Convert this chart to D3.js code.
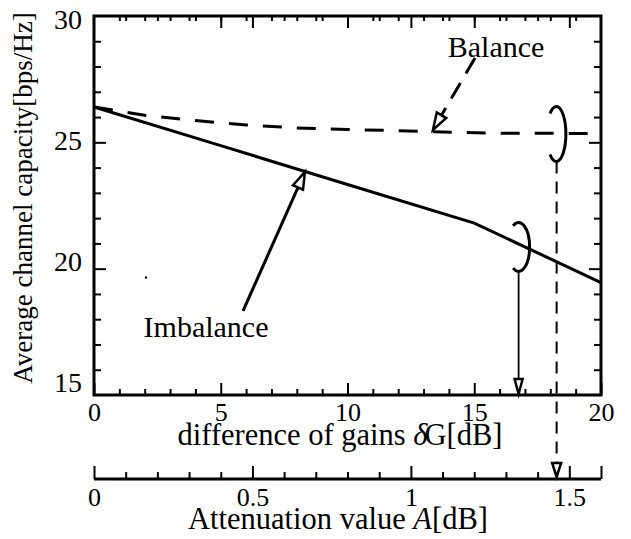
<!DOCTYPE html>
<html><head><meta charset="utf-8">
<script src="https://cdn.jsdelivr.net/npm/d3@7"></script>
<style>
html,body{margin:0;padding:0;background:#fff;}
svg{display:block;}
</style>
</head><body>
<svg id="chart" width="631" height="539" font-family="Liberation Serif, Times New Roman, serif"></svg>
<script>
// ---- data ----
const gainDiff = [0, 5, 10, 15, 20];
const imbalanceCapacity = [26.4, 24.87, 23.33, 21.8, 19.45];
const balanceGain = [0, 2, 4, 6, 8, 10, 12, 13.4, 16, 20];
const balanceCapacity = [26.4, 26.07, 25.86, 25.69, 25.57, 25.51, 25.46, 25.42, 25.36, 25.35];

const gainMajorTicks = [0, 5, 10, 15, 20];
const gainMinorTicks = [1, 2, 3, 4, 6, 7, 8, 9, 11, 12, 13, 14, 16, 17, 18, 19];
const capacityMajorTicks = [15, 20, 25, 30];
const capacityMinorTicks = [16, 17, 18, 19, 21, 22, 23, 24, 26, 27, 28, 29];
const attenMajorTicks = [0, 0.5, 1, 1.5, 1.6];
const attenLabelTicks = [0, 0.5, 1, 1.5];
const attenLabels = ["0", "0.5", "1", "1.5"];
const attenMinorTicks = [0.1, 0.2, 0.3, 0.4, 0.6, 0.7, 0.8, 0.9, 1.1, 1.2, 1.3, 1.4];

// annotation anchors (data units)
const balanceLabel = {gain: 15.86, cap: 28.38, text: "Balance"};
const imbalanceLabel = {gain: 4.42, cap: 17.30, text: "Imbalance"};
const balancePointer = {from: [15.03, 28.34], to: [13.37, 25.49]};
const imbalancePointer = {from: [5.88, 18.33], to: [8.32, 23.83]};
const balanceLoop = {gain: 18.24, cap: 25.33, atten: 1.46};
const imbalanceLoop = {gain: 16.75, cap: 20.86};
const specks = [[2.05, 19.65]];

// ---- layout ----
const FONT = "Liberation Serif, Times New Roman, serif";
const svg = d3.select("#chart");
const L = 94, R = 601, T = 16, B = 395, attenY = 479;
const x = d3.scaleLinear().domain([0, 20]).range([L, R]);
const y = d3.scaleLinear().domain([15, 30]).range([B, T]);
// the printed y labels sit on a slightly compressed baseline scale
const yLabel = d3.scaleLinear().domain([15, 30]).range([391.5, 28.5]);
const xa = d3.scaleLinear().domain([0, 1.6]).range([L, R]);

function styleTicks(g, w) {
  g.attr("font-family", FONT);
  g.select(".domain").remove();
  g.selectAll(".tick line").attr("stroke", "#000").attr("stroke-width", w);
  g.selectAll(".tick text").attr("font-family", FONT).attr("fill", "#000");
}

// bottom gain axis
svg.append("g").attr("transform", `translate(0,${B})`)
  .call(d3.axisBottom(x).tickValues(gainMinorTicks).tickSize(-6).tickFormat(""))
  .call(g => styleTicks(g, 2));
svg.append("g").attr("transform", `translate(0,${B})`)
  .call(d3.axisBottom(x).tickValues(gainMajorTicks).tickSize(-12).tickPadding(8).tickFormat(d3.format("d")))
  .call(g => { styleTicks(g, 2); g.attr("font-size", 26); g.selectAll("text").attr("font-size", 26); });

// top axis (gain ticks + attenuation ticks)
svg.append("g").attr("transform", `translate(0,${T})`)
  .call(d3.axisTop(x).tickValues(gainMinorTicks).tickSize(-5).tickFormat(""))
  .call(g => styleTicks(g, 2));
svg.append("g").attr("transform", `translate(0,${T})`)
  .call(d3.axisTop(x).tickValues([5, 10, 15]).tickSize(-12).tickFormat(""))
  .call(g => styleTicks(g, 2));
svg.append("g").attr("transform", `translate(0,${T})`)
  .call(d3.axisTop(xa).tickValues(attenMinorTicks).tickSize(-5).tickFormat(""))
  .call(g => styleTicks(g, 2));
svg.append("g").attr("transform", `translate(0,${T})`)
  .call(d3.axisTop(xa).tickValues([0.5, 1, 1.5]).tickSize(-12).tickFormat(""))
  .call(g => styleTicks(g, 2));

// left axis
svg.append("g").attr("transform", `translate(${L},0)`)
  .call(d3.axisLeft(y).tickValues(capacityMinorTicks).tickSize(-7).tickFormat(""))
  .call(g => styleTicks(g, 2));
svg.append("g").attr("transform", `translate(${L},0)`)
  .call(d3.axisLeft(y).tickValues([20, 25]).tickSize(-12).tickFormat(""))
  .call(g => styleTicks(g, 2));
svg.append("g").attr("transform", `translate(${L},0)`)
  .call(d3.axisLeft(yLabel).tickValues(capacityMajorTicks).tickSize(0).tickPadding(12).tickFormat(d3.format("d")))
  .call(g => { styleTicks(g, 2); g.attr("font-size", 28); g.selectAll("text").attr("font-size", 28).attr("dy", 0); });

// right axis
svg.append("g").attr("transform", `translate(${R},0)`)
  .call(d3.axisRight(y).tickValues(capacityMinorTicks).tickSize(-7).tickFormat(""))
  .call(g => styleTicks(g, 2));
svg.append("g").attr("transform", `translate(${R},0)`)
  .call(d3.axisRight(y).tickValues([20, 25]).tickSize(-12).tickFormat(""))
  .call(g => styleTicks(g, 2));

// frame
svg.append("rect").attr("x", L).attr("y", T).attr("width", R - L).attr("height", B - T)
  .attr("fill", "none").attr("stroke", "#000").attr("stroke-width", 3);

// attenuation axis
svg.append("line").attr("x1", L).attr("x2", R).attr("y1", attenY).attr("y2", attenY)
  .attr("stroke", "#000").attr("stroke-width", 3);
svg.append("g").attr("transform", `translate(0,${attenY})`)
  .call(d3.axisBottom(xa).tickValues(attenMinorTicks).tickSize(-7).tickFormat(""))
  .call(g => styleTicks(g, 2));
svg.append("g").attr("transform", `translate(0,${attenY})`)
  .call(d3.axisBottom(xa).tickValues(attenMajorTicks).tickSize(-13).tickFormat(""))
  .call(g => styleTicks(g, 2));
svg.append("g").attr("transform", `translate(0,${attenY})`)
  .call(d3.axisBottom(xa).tickValues(attenLabelTicks).tickSize(0).tickPadding(9)
        .tickFormat((d, i) => attenLabels[i]))
  .call(g => { styleTicks(g, 2); g.attr("font-size", 26); g.selectAll("text").attr("font-size", 26); });

function txt(xp, yp, size) {
  return svg.append("text").attr("x", xp).attr("y", yp).attr("text-anchor", "middle")
    .attr("font-family", FONT).attr("font-size", size).attr("fill", "#000");
}

// axis titles
svg.append("text").attr("transform", "translate(32,198) rotate(-90)")
  .attr("text-anchor", "middle").attr("font-size", 27).attr("font-family", FONT).attr("fill", "#000")
  .text("Average channel capacity[bps/Hz]");
const xt = txt(340, 445, 30.5);
xt.append("tspan").text("difference of gains ");
xt.append("tspan").attr("font-style", "italic").text("δ");
xt.append("tspan").attr("dx", -3).text("G[dB]");
const at = txt(338, 529, 30.5);
at.append("tspan").text("Attenuation value ");
at.append("tspan").attr("font-style", "italic").text("A");
at.append("tspan").text("[dB]");

// data lines
const line = d3.line().x(d => x(d[0])).y(d => y(d[1]));
svg.append("path").datum(gainDiff.map((g, i) => [g, imbalanceCapacity[i]]))
  .attr("d", line).attr("fill", "none").attr("stroke", "#000").attr("stroke-width", 3);
svg.append("path").datum(balanceGain.map((g, i) => [g, balanceCapacity[i]]))
  .attr("d", line).attr("fill", "none").attr("stroke", "#000").attr("stroke-width", 3)
  .attr("stroke-dasharray", "19,15");

// helpers
function arrowHead(tip, from, len, wid) {
  const dx = tip[0] - from[0], dy = tip[1] - from[1];
  const d = Math.hypot(dx, dy), ux = dx / d, uy = dy / d;
  const bx = tip[0] - ux * len, by = tip[1] - uy * len;
  const pts = [tip, [bx - uy * wid / 2, by + ux * wid / 2], [bx + uy * wid / 2, by - ux * wid / 2]];
  svg.append("polygon").attr("points", pts.map(p => p.join(",")).join(" "))
    .attr("fill", "#fff").attr("stroke", "#000").attr("stroke-width", 2.5).attr("stroke-linejoin", "miter");
  return [bx, by];
}
function loop(cx, cy, rx, ry, deg) {
  const a = deg * Math.PI / 180;
  const sx = cx + rx * Math.cos(-a), sy = cy + ry * Math.sin(-a);
  const ex = cx + rx * Math.cos(a), ey = cy + ry * Math.sin(a);
  svg.append("path").attr("d", `M${sx},${sy} A${rx},${ry} 0 1 1 ${ex},${ey}`)
    .attr("fill", "none").attr("stroke", "#000").attr("stroke-width", 3);
}

// Balance annotation
txt(x(balanceLabel.gain), y(balanceLabel.cap), 30).text(balanceLabel.text);
{
  const f = [x(balancePointer.from[0]), y(balancePointer.from[1])];
  const t = [x(balancePointer.to[0]), y(balancePointer.to[1])];
  const base = arrowHead(t, f, 17, 11);
  svg.append("line").attr("x1", f[0]).attr("y1", f[1]).attr("x2", base[0]).attr("y2", base[1])
    .attr("stroke", "#000").attr("stroke-width", 3).attr("stroke-dasharray", "18,11");
}
// Imbalance annotation
txt(x(imbalanceLabel.gain), y(imbalanceLabel.cap), 30).text(imbalanceLabel.text);
{
  const f = [x(imbalancePointer.from[0]), y(imbalancePointer.from[1])];
  const t = [x(imbalancePointer.to[0]), y(imbalancePointer.to[1])];
  const base = arrowHead(t, f, 17, 11);
  svg.append("line").attr("x1", f[0]).attr("y1", f[1]).attr("x2", base[0]).attr("y2", base[1])
    .attr("stroke", "#000").attr("stroke-width", 3);
}

// Balance loop + dashed drop to attenuation axis
{
  const cx = x(balanceLoop.gain), cy = y(balanceLoop.cap), ry = 27.5;
  loop(cx, cy, 9.5, ry, 132);
  const tip = [xa(balanceLoop.atten), attenY - 2];
  const base = arrowHead(tip, [tip[0], cy + ry], 14, 9);
  svg.append("line").attr("x1", tip[0]).attr("y1", cy + ry).attr("x2", tip[0]).attr("y2", base[1])
    .attr("stroke", "#000").attr("stroke-width", 2).attr("stroke-dasharray", "12,8");
}
// Imbalance loop + solid drop to gain axis
{
  const cx = x(imbalanceLoop.gain), cy = y(imbalanceLoop.cap), ry = 24.5;
  loop(cx, cy, 11, ry, 120);
  const tip = [cx, B - 1];
  const base = arrowHead(tip, [cx, cy + ry], 15, 8);
  svg.append("line").attr("x1", cx).attr("y1", cy + ry).attr("x2", cx).attr("y2", base[1])
    .attr("stroke", "#000").attr("stroke-width", 1.8);
}

svg.selectAll(".speck").data(specks).enter().append("circle").attr("class", "speck")
  .attr("cx", d => x(d[0])).attr("cy", d => y(d[1])).attr("r", 1.2).attr("fill", "#000");
</script>
</body></html>
